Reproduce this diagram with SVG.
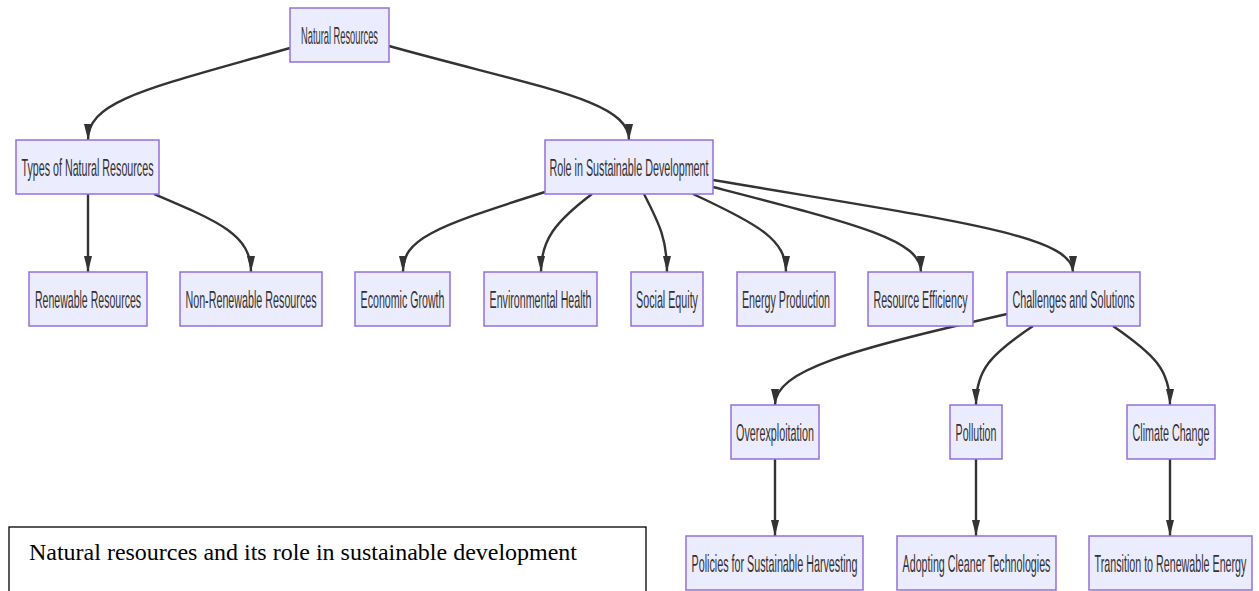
<svg xmlns="http://www.w3.org/2000/svg" width="1259" height="591" viewBox="0 0 1259 591">
<style>
.node rect{fill:#ECECFF;stroke:#9370DB;stroke-width:1.5}
.node text{font-family:"Liberation Sans",Arial,sans-serif;font-size:24px;fill:#333;text-anchor:middle}
.edge{fill:none;stroke:#333;stroke-width:2.4;marker-end:url(#arrow)}
.caption rect{fill:#fff;stroke:#000;stroke-width:1.3}
.caption text{font-family:"Liberation Serif","Times New Roman",serif;font-size:23px;fill:#000}
</style>
<defs>
<marker id="arrow" markerUnits="userSpaceOnUse" viewBox="0 0 16 8" refX="16" refY="4" markerWidth="16" markerHeight="8" orient="auto">
<path d="M0,0 L16,4 L0,8 z" fill="#333"/>
</marker>
</defs>
<rect width="1259" height="591" fill="#fff"/>
<g id="connectors">
<path class="edge" d="M290,48 C150,88 88,100 88,140"/>
<path class="edge" d="M389,46 C540,88 629,100 629,140"/>
<path class="edge" d="M88,194 L88,272"/>
<path class="edge" d="M154,194 C220,222 251,235 251,272"/>
<path class="edge" d="M545,192 C430,228 403,240 403,272"/>
<path class="edge" d="M592,194 C555,222 541,240 541,272"/>
<path class="edge" d="M644,194 C660,225 667,240 667,272"/>
<path class="edge" d="M693,194 C760,225 786,240 786,272"/>
<path class="edge" d="M713,187 C860,225 921,240 921,272"/>
<path class="edge" d="M713,180 C950,220 1073,235 1073,272"/>
<path class="edge" d="M1007,314 C850,350 775,370 775,405"/>
<path class="edge" d="M1033,326 C990,355 976,370 976,405"/>
<path class="edge" d="M1113,326 C1155,355 1170,370 1170,405"/>
<path class="edge" d="M775,459 L775,536"/>
<path class="edge" d="M976,459 L976,536"/>
<path class="edge" d="M1170,459 L1170,536"/>
</g>
<g id="n-natural-resources" class="node"><rect x="290" y="8" width="99" height="54"/><text transform="translate(339.5,43.5) scale(0.43,1)" textLength="179" lengthAdjust="spacingAndGlyphs">Natural Resources</text></g>
<g id="n-types" class="node"><rect x="16" y="140" width="143" height="54"/><text transform="translate(87.5,175.5) scale(0.43,1)" textLength="307" lengthAdjust="spacingAndGlyphs">Types of Natural Resources</text></g>
<g id="n-role" class="node"><rect x="545" y="140" width="168" height="54"/><text transform="translate(629,175.5) scale(0.43,1)" textLength="370" lengthAdjust="spacingAndGlyphs">Role in Sustainable Development</text></g>
<g id="n-renewable" class="node"><rect x="29" y="272" width="118" height="54"/><text transform="translate(88,307.5) scale(0.43,1)" textLength="247" lengthAdjust="spacingAndGlyphs">Renewable Resources</text></g>
<g id="n-nonrenewable" class="node"><rect x="180" y="272" width="142" height="54"/><text transform="translate(251,307.5) scale(0.43,1)" textLength="305" lengthAdjust="spacingAndGlyphs">Non-Renewable Resources</text></g>
<g id="n-economic" class="node"><rect x="355" y="272" width="95" height="54"/><text transform="translate(402.5,307.5) scale(0.43,1)" textLength="195" lengthAdjust="spacingAndGlyphs">Economic Growth</text></g>
<g id="n-environmental" class="node"><rect x="484" y="272" width="113" height="54"/><text transform="translate(540.5,307.5) scale(0.43,1)" textLength="237" lengthAdjust="spacingAndGlyphs">Environmental Health</text></g>
<g id="n-social" class="node"><rect x="631" y="272" width="72" height="54"/><text transform="translate(667,307.5) scale(0.43,1)" textLength="144" lengthAdjust="spacingAndGlyphs">Social Equity</text></g>
<g id="n-energy" class="node"><rect x="737" y="272" width="98" height="54"/><text transform="translate(786,307.5) scale(0.43,1)" textLength="205" lengthAdjust="spacingAndGlyphs">Energy Production</text></g>
<g id="n-efficiency" class="node"><rect x="868" y="272" width="105" height="54"/><text transform="translate(920.5,307.5) scale(0.43,1)" textLength="219" lengthAdjust="spacingAndGlyphs">Resource Efficiency</text></g>
<g id="n-challenges" class="node"><rect x="1007" y="272" width="133" height="54"/><text transform="translate(1073.5,307.5) scale(0.43,1)" textLength="284" lengthAdjust="spacingAndGlyphs">Challenges and Solutions</text></g>
<g id="n-overexploitation" class="node"><rect x="731" y="405" width="88" height="54"/><text transform="translate(775,440.5) scale(0.43,1)" textLength="181" lengthAdjust="spacingAndGlyphs">Overexploitation</text></g>
<g id="n-pollution" class="node"><rect x="950" y="405" width="52" height="54"/><text transform="translate(976,440.5) scale(0.43,1)" textLength="95" lengthAdjust="spacingAndGlyphs">Pollution</text></g>
<g id="n-climate" class="node"><rect x="1127" y="405" width="88" height="54"/><text transform="translate(1171,440.5) scale(0.43,1)" textLength="179" lengthAdjust="spacingAndGlyphs">Climate Change</text></g>
<g id="n-policies" class="node"><rect x="686" y="536" width="177" height="54"/><text transform="translate(774.5,571.5) scale(0.43,1)" textLength="386" lengthAdjust="spacingAndGlyphs">Policies for Sustainable Harvesting</text></g>
<g id="n-adopting" class="node"><rect x="897" y="536" width="159" height="54"/><text transform="translate(976.5,571.5) scale(0.43,1)" textLength="344" lengthAdjust="spacingAndGlyphs">Adopting Cleaner Technologies</text></g>
<g id="n-transition" class="node"><rect x="1089" y="536" width="163" height="54"/><text transform="translate(1170.5,571.5) scale(0.43,1)" textLength="353" lengthAdjust="spacingAndGlyphs">Transition to Renewable Energy</text></g>
<g id="caption" class="caption"><rect x="9" y="527" width="637" height="80"/><text x="29" y="560" textLength="548" lengthAdjust="spacingAndGlyphs">Natural resources and its role in sustainable development</text></g>
</svg>
